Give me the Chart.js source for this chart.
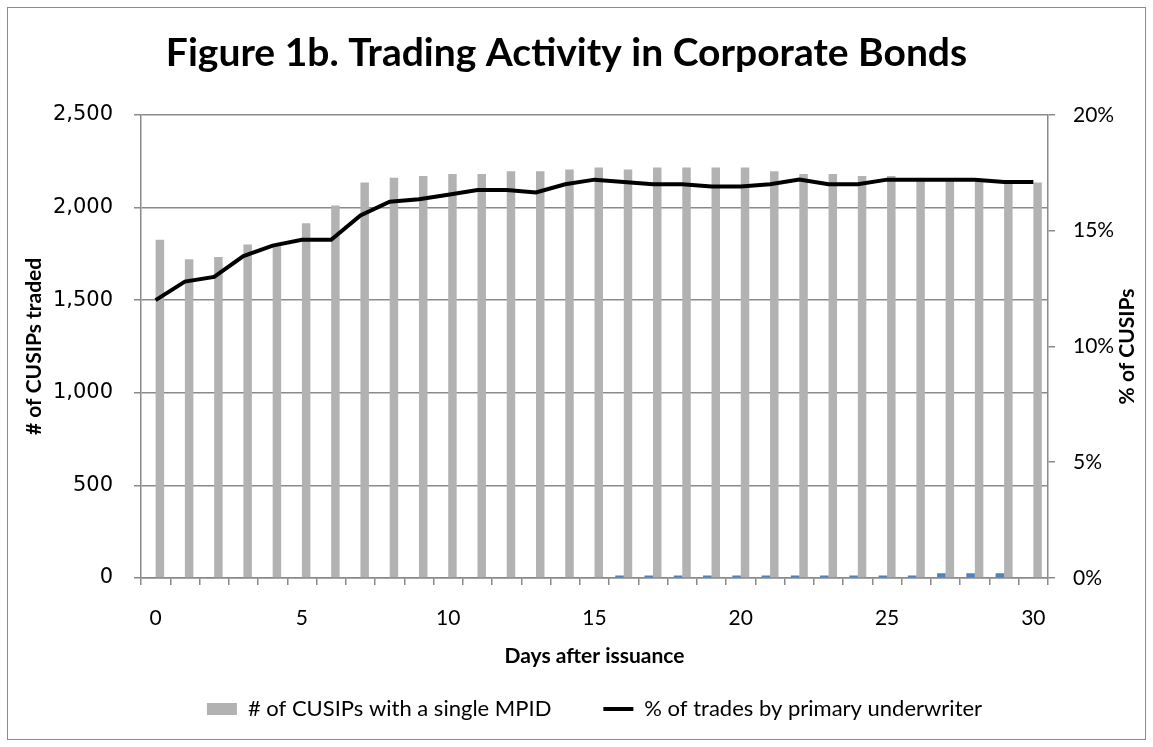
<!DOCTYPE html>
<html>
<head>
<meta charset="utf-8">
<title>Figure 1b</title>
<script src="https://cdn.jsdelivr.net/npm/chart.js@4"></script>
<style>
  body { margin: 0; background: #fff; }
</style>
</head>
<body>
<canvas id="myChart" width="1153" height="747"></canvas>
<script>
// days after issuance
const days = ["0", "1", "2", "3", "4", "5", "6", "7", "8", "9", "10",
    "11", "12", "13", "14", "15", "16", "17", "18", "19", "20",
    "21", "22", "23", "24", "25", "26", "27", "28", "29", "30"];

// # of CUSIPs with a single MPID (grey bars)
const singleMpid = [1825, 1720, 1732, 1800, 1790, 1915, 2010, 2135, 2160, 2170, 2180,
    2180, 2195, 2195, 2205, 2215, 2205, 2215, 2215, 2215, 2215,
    2195, 2180, 2180, 2170, 2170, 2155, 2155, 2150, 2135, 2135];

// small blue series next to the grey bars (not in legend)
const otherSeries = [3, 3, 3, 3, 3, 3, 3, 3, 3, 3, 3,
    3, 3, 3, 3, 5, 14, 14, 14, 14, 14,
    14, 14, 14, 14, 14, 14, 25, 25, 25, 0];

// % of trades by primary underwriter (right axis)
const pctPrimary = [12.0, 12.8, 13.0, 13.9, 14.35, 14.6, 14.6, 15.65, 16.25, 16.35, 16.55,
    16.75, 16.75, 16.65, 17.0, 17.2, 17.1, 17.0, 17.0, 16.9, 16.9,
    17.0, 17.2, 17.0, 17.0, 17.2, 17.2, 17.2, 17.2, 17.1, 17.1];

const rightTitle = "% of CUSIPs";
const gridColor = "#8a8a8a";

// thin frame round the whole chart + right axis title (reads bottom to top like the left one)
const frame = {
    id: "frame",
    beforeDraw(chart) {
        const c = chart.ctx;
        c.save();
        c.fillStyle = "#fff";
        c.fillRect(0, 0, chart.width, chart.height);
        c.strokeStyle = "#8c8c8c";
        c.lineWidth = 1;
        c.strokeRect(7.5, 7.5, 1138, 732);
        c.restore();
    },
    afterDraw(chart) {
        const c = chart.ctx;
        const area = chart.chartArea;
        c.save();
        c.translate(1127, (area.top + area.bottom) / 2);
        c.rotate(-Math.PI / 2);
        c.fillStyle = "#000";
        c.font = "bold 21px Lato";
        c.textAlign = "center";
        c.textBaseline = "middle";
        c.fillText(rightTitle, 0, 0);
        c.restore();
    }
};

const ctx = document.getElementById("myChart");

let myChart = new Chart(ctx, {
    type: "bar",
    data: {
        labels: days,
        datasets: [{
            type: "line",
            label: "% of trades by primary underwriter",
            data: pctPrimary,
            yAxisID: "y1",
            borderColor: "#000",
            backgroundColor: "#000",
            borderWidth: 4,
            pointRadius: 0,
            tension: 0,
            order: 0,
            pointStyle: "line"
        }, {
            label: "other",
            data: otherSeries,
            backgroundColor: "#4f81bd",
            categoryPercentage: 0.58,
            barPercentage: 1,
            order: 1
        }, {
            label: "# of CUSIPs with a single MPID",
            data: singleMpid,
            backgroundColor: "#b2b2b2",
            categoryPercentage: 0.58,
            barPercentage: 1,
            order: 2,
            pointStyle: "rect"
        }]
    },
    options: {
        responsive: false,
        animation: false,
        layout: {
            padding: {left: 0, right: 20, top: 0, bottom: 17}
        },
        plugins: {
            tooltip: {enabled: false},
            title: {
                display: true,
                text: "Figure 1b. Trading Activity in Corporate Bonds",
                color: "#000",
                font: {family: "Lato", size: 39, weight: "bold"},
                padding: {top: 30, bottom: 38}
            },
            legend: {
                position: "bottom",
                fullSize: false,
                labels: {
                    color: "#000",
                    font: {family: "Lato", size: 22},
                    usePointStyle: true,
                    pointStyleWidth: 30,
                    boxHeight: 12,
                    padding: 52,
                    filter: (item) => item.datasetIndex !== 1,
                    sort: (a, b) => b.datasetIndex - a.datasetIndex
                }
            }
        },
        scales: {
            x: {
                type: "category",
                offset: true,
                afterFit: (scale) => { scale.height = 68; },
                grid: {
                    offset: true,
                    drawOnChartArea: false,
                    drawTicks: true,
                    tickLength: 7,
                    color: gridColor,
                    lineWidth: 1.5
                },
                border: {display: true, color: gridColor, width: 1.5},
                ticks: {
                    autoSkip: false,
                    maxRotation: 0,
                    padding: 21,
                    color: "#000",
                    font: {family: "Lato", size: 21},
                    callback: (val, i) => i % 5 === 0 ? days[i] : ""
                },
                title: {
                    display: true,
                    text: "Days after issuance",
                    color: "#000",
                    font: {family: "Lato", size: 21, weight: "bold"},
                    padding: {top: 0, bottom: -23}
                }
            },
            y: {
                position: "left",
                min: 0,
                max: 2500,
                afterFit: (scale) => { scale.width = 141; },
                grid: {
                    color: gridColor,
                    lineWidth: 1.5,
                    tickLength: 7
                },
                border: {display: true, color: gridColor, width: 1.5},
                ticks: {
                    stepSize: 500,
                    padding: 21,
                    color: "#000",
                    font: {family: "DejaVu Sans", size: 21},
                    callback: (v) => v.toLocaleString("en-US")
                },
                title: {
                    display: true,
                    text: "# of CUSIPs traded",
                    color: "#000",
                    font: {family: "Lato", size: 21, weight: "bold"},
                    padding: {top: 22, bottom: 0}
                }
            },
            y1: {
                position: "right",
                min: 0,
                max: 20,
                afterFit: (scale) => { scale.width = 1133 - 1048; },
                grid: {
                    drawOnChartArea: false,
                    color: gridColor,
                    lineWidth: 1.5,
                    tickLength: 7
                },
                border: {display: true, color: gridColor, width: 1.5},
                ticks: {
                    stepSize: 5,
                    padding: 18,
                    color: "#000",
                    font: {family: "Lato", size: 21},
                    callback: (v) => v + "%"
                }
            }
        }
    },
    plugins: [frame]
});
</script>
</body>
</html>
